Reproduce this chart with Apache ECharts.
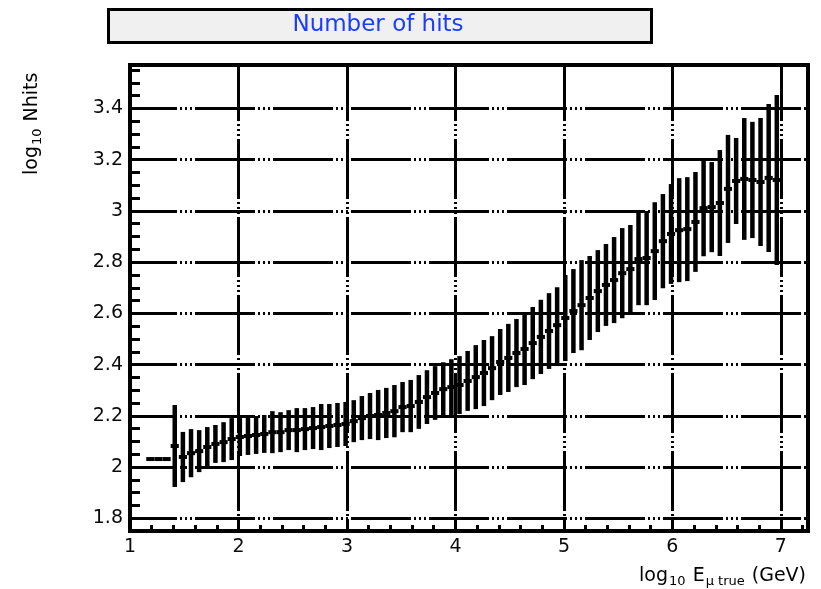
<!DOCTYPE html>
<html>
<head>
<meta charset="utf-8">
<script src="https://cdn.jsdelivr.net/npm/echarts@6/dist/echarts.min.js"></script>
<style>
  html, body { margin: 0; padding: 0; background: #ffffff; }
  #chart { width: 821px; height: 589px; }
</style>
</head>
<body>
<div id="chart"></div>
<script>
// Profile of log10(Nhits) versus log10(E_mu true / GeV): bin centres, mean and spread per bin
const binCenters = [
  1.1875, 1.2625, 1.3375, 1.4125, 1.4875, 1.5625, 1.6375, 1.7125, 1.7875, 1.8625,
  1.9375, 2.0125, 2.0875, 2.1625, 2.2375, 2.3125, 2.3875, 2.4625, 2.5375, 2.6125,
  2.6875, 2.7625, 2.8375, 2.9125, 2.9875, 3.0625, 3.1375, 3.2125, 3.2875, 3.3625,
  3.4375, 3.5125, 3.5875, 3.6625, 3.7375, 3.8125, 3.8875, 3.9625, 4.0375, 4.1125,
  4.1875, 4.2625, 4.3375, 4.4125, 4.4875, 4.5625, 4.6375, 4.7125, 4.7875, 4.8625,
  4.9375, 5.0125, 5.0875, 5.1625, 5.2375, 5.3125, 5.3875, 5.4625, 5.5375, 5.6125,
  5.6875, 5.7625, 5.8375, 5.9125, 5.9875, 6.0625, 6.1375, 6.2125, 6.2875, 6.3625,
  6.4375, 6.5125, 6.5875, 6.6625, 6.7375, 6.8125, 6.8875, 6.9625
];
const meanHits = [
  2.031, 2.031, 2.031, 2.082, 2.039, 2.054, 2.062, 2.078, 2.090, 2.097,
  2.109, 2.117, 2.121, 2.125, 2.129, 2.136, 2.136, 2.144, 2.144, 2.148,
  2.152, 2.156, 2.160, 2.164, 2.168, 2.179, 2.191, 2.199, 2.203, 2.211,
  2.218, 2.234, 2.238, 2.254, 2.273, 2.289, 2.304, 2.312, 2.320, 2.336,
  2.351, 2.367, 2.386, 2.410, 2.426, 2.445, 2.461, 2.484, 2.508, 2.531,
  2.554, 2.582, 2.609, 2.632, 2.660, 2.687, 2.711, 2.730, 2.757, 2.773,
  2.812, 2.816, 2.843, 2.882, 2.910, 2.925, 2.929, 2.957, 3.011, 3.015,
  3.031, 3.086, 3.117, 3.125, 3.121, 3.113, 3.129, 3.121
];
const spreadHits = [
  0.000, 0.000, 0.000, 0.160, 0.098, 0.094, 0.082, 0.078, 0.074, 0.078,
  0.082, 0.074, 0.074, 0.074, 0.074, 0.082, 0.078, 0.078, 0.086, 0.082,
  0.082, 0.090, 0.086, 0.086, 0.086, 0.082, 0.086, 0.090, 0.098, 0.098,
  0.102, 0.098, 0.102, 0.105, 0.105, 0.105, 0.105, 0.109, 0.113, 0.117,
  0.125, 0.129, 0.125, 0.129, 0.133, 0.133, 0.141, 0.141, 0.145, 0.148,
  0.148, 0.168, 0.164, 0.176, 0.164, 0.160, 0.160, 0.168, 0.176, 0.172,
  0.180, 0.184, 0.191, 0.184, 0.195, 0.203, 0.203, 0.195, 0.188, 0.176,
  0.207, 0.211, 0.168, 0.238, 0.227, 0.250, 0.289, 0.332
];
const binWidth = 0.075;

// Axis ranges and texts
const xRange = [1, 7.25];
const yRange = [1.75, 3.57];
const titleText = 'Number of hits';
const yTitleRich = '{a|log}{s|10}{a| Nhits}';
const xTitleRich = '{a|log}{s|10}{a| E}{s|\u03bc true}{a| (GeV)}';

const FONT = 'DejaVu Sans';
const INK = '#0a0a0a';
// long stroke followed by a short run of dots, repeating along every grid line
const gridDash = [60, 3, 2, 3, 2, 3, 2, 3];

const chart = echarts.init(document.getElementById('chart'), null, { renderer: 'canvas' });

function renderBin(params, api) {
  const x = api.value(0);
  const m = api.value(1);
  const e = api.value(2);
  const mid = api.coord([x, m]);
  const half = api.size([binWidth, 0])[0] / 2;
  const children = [{
    type: 'line',
    shape: { x1: mid[0] - half, y1: mid[1], x2: mid[0] + half, y2: mid[1] },
    style: { stroke: '#000', lineWidth: 4 }
  }];
  if (e > 0) {
    const hi = api.coord([x, m + e]);
    const lo = api.coord([x, m - e]);
    children.push({
      type: 'line',
      shape: { x1: hi[0], y1: hi[1], x2: lo[0], y2: lo[1] },
      style: { stroke: '#000', lineWidth: 4.5 }
    });
  }
  return { type: 'group', children };
}

const subRich = {
  a: { fontFamily: FONT, fontSize: 19, color: INK },
  s: { fontFamily: FONT, fontSize: 13, color: INK, padding: [12, 1, 0, 1] }
};

const option = {
  backgroundColor: '#ffffff',
  animation: false,
  grid: {
    left: 130, right: 13, top: 65, bottom: 58,
    show: true, borderColor: '#000', borderWidth: 4, backgroundColor: '#ffffff'
  },
  xAxis: [{
    type: 'value', min: xRange[0], max: xRange[1], interval: 1,
    position: 'bottom',
    axisLine: { show: false },
    axisTick: { show: true, inside: true, length: 10, lineStyle: { color: '#000', width: 3 } },
    axisLabel: { show: true, margin: 7, showMaxLabel: false, fontFamily: FONT, fontSize: 19, color: INK },
    splitLine: { show: true, lineStyle: { color: '#000', width: 3, type: gridDash, dashOffset: 4 } }
  }, {
    type: 'value', min: xRange[0], max: xRange[1], interval: 0.2,
    position: 'bottom', offset: 0,
    axisLine: { show: false },
    axisTick: { show: true, inside: true, length: 6, lineStyle: { color: '#000', width: 3 } },
    axisLabel: { show: false },
    splitLine: { show: false }
  }],
  yAxis: [{
    type: 'value', min: yRange[0], max: yRange[1],
    splitNumber: 9, minInterval: 0.2, maxInterval: 0.2,
    position: 'left',
    axisLine: { show: false },
    axisTick: { show: true, inside: true, length: 12, lineStyle: { color: '#000', width: 3 } },
    axisLabel: { show: true, margin: 7, showMinLabel: false, showMaxLabel: false, fontFamily: FONT, fontSize: 19, color: INK },
    splitLine: { show: true, lineStyle: { color: '#000', width: 3, type: gridDash, dashOffset: 13 } }
  }, {
    type: 'value', min: yRange[0], max: yRange[1], interval: 0.05,
    position: 'left', offset: 0,
    axisLine: { show: false },
    axisTick: { show: true, inside: true, length: 10, lineStyle: { color: '#000', width: 3 } },
    axisLabel: { show: false },
    splitLine: { show: false }
  }],
  graphic: [
    {
      type: 'rect', left: 107, top: 8,
      shape: { width: 543, height: 33 },
      style: { fill: '#f0f0f0', stroke: '#000', lineWidth: 3 }
    },
    {
      type: 'text', x: 378, y: 25,
      style: { text: titleText, fill: '#1a3cff', font: '23px "DejaVu Sans"', align: 'center', verticalAlign: 'middle' }
    },
    {
      type: 'text', x: 32, y: 175, rotation: Math.PI / 2,
      style: { text: yTitleRich, rich: subRich, align: 'left', verticalAlign: 'middle' }
    },
    {
      type: 'text', x: 806, y: 576,
      style: { text: xTitleRich, rich: subRich, align: 'right', verticalAlign: 'middle' }
    }
  ],
  series: [{
    type: 'custom',
    name: 'log10 Nhits',
    xAxisIndex: 0, yAxisIndex: 0,
    renderItem: renderBin,
    encode: { x: 0, y: 1 },
    clip: true,
    data: binCenters.map((x, i) => [x, meanHits[i], spreadHits[i]]),
    z: 5
  }]
};

chart.setOption(option);
</script>
</body>
</html>
